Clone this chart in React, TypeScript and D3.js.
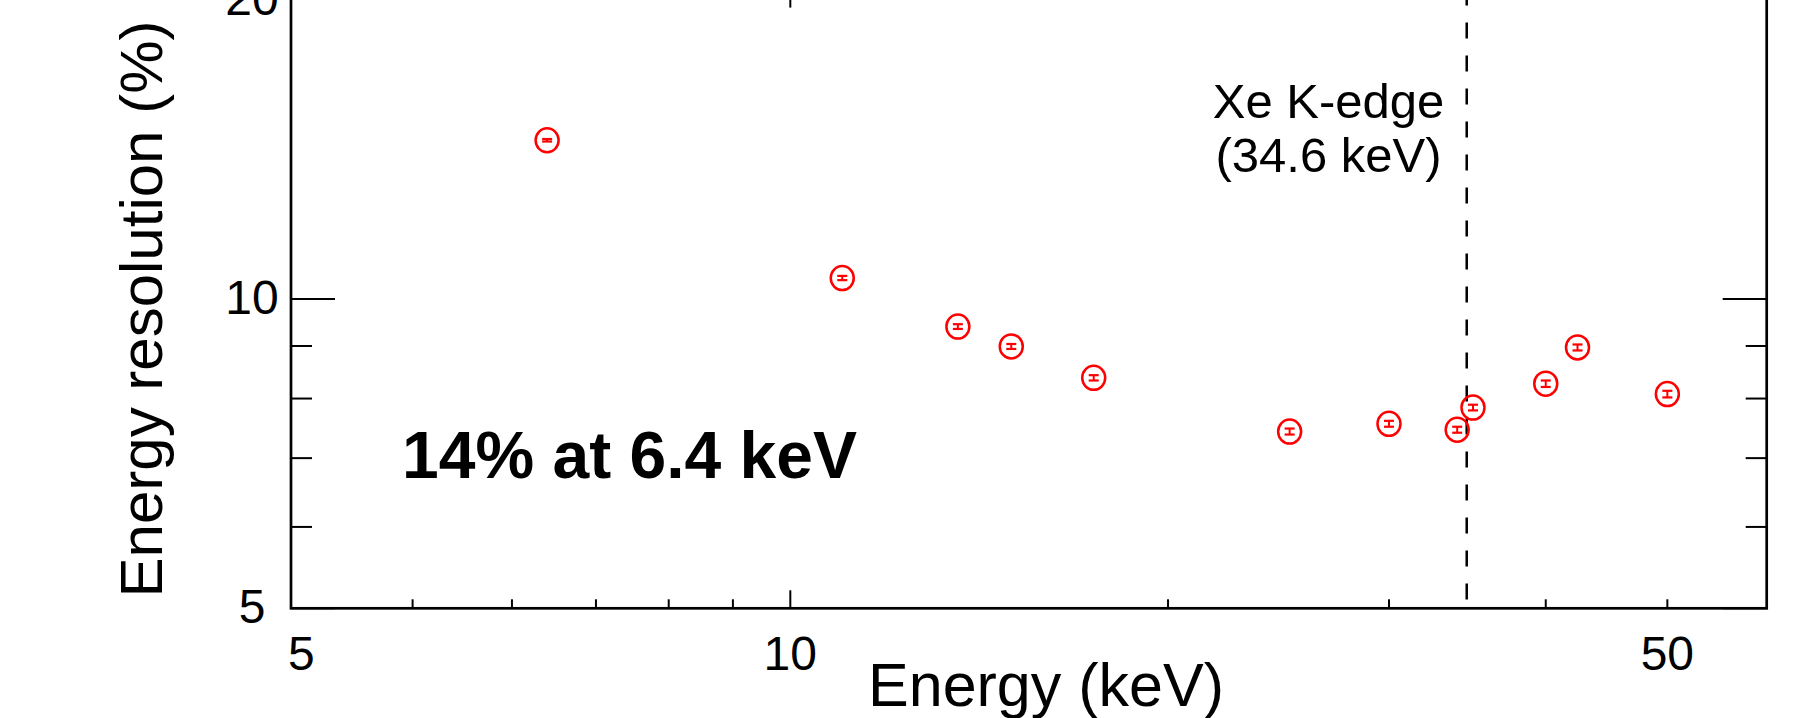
import { useRef, useEffect } from 'react';
import * as d3 from 'd3';

// measured points (energy in keV, resolution in % FWHM)
const energy = [6.4, 11.0, 13.6, 15.0, 17.45, 25.0, 30.0, 34.0, 35.0, 40.0, 42.4, 50.0];
const resolution = [14.27, 10.48, 9.40, 8.99, 8.38, 7.43, 7.56, 7.46, 7.84, 8.27, 8.97, 8.08];
const resErr = [0.04, 0.05, 0.05, 0.05, 0.05, 0.05, 0.05, 0.05, 0.05, 0.06, 0.06, 0.06];

const xMinorTicks = [5, 6, 7, 8, 9, 20, 30, 40, 50];
const xMajorTicks = [10];
const xTickLabels = ['5', '10', '50'];
const yMinorTicks = [6, 7, 8, 9];
const yMajorTicks = [5, 10, 20];

const kEdge = 34.6;

const W = 1813;
const H = 718;
const FONT = '"Liberation Sans", Arial, Helvetica, sans-serif';

const App = () => {
  const svgRef = useRef(null);

  useEffect(() => {
    const svg = d3.select(svgRef.current);
    svg.selectAll('*').remove();

    const x = d3.scaleLog().domain([4, 60]).range([291, 1766.7]);
    const y = d3.scaleLog().domain([5, 20]).range([608.3, -10.4]);
    const [x0, x1] = x.range();
    const [y0, y1] = y.range();

    //ticks on all four sides
    const g = svg.append('g').attr('stroke', '#000').attr('stroke-width', 2);
    const xt = (vals, len) => {
      vals.forEach((v) => {
        g.append('line').attr('x1', x(v)).attr('x2', x(v)).attr('y1', y0).attr('y2', y0 - len);
        g.append('line').attr('x1', x(v)).attr('x2', x(v)).attr('y1', y1).attr('y2', y1 + len);
      });
    };
    const yt = (vals, len) => {
      vals.forEach((v) => {
        g.append('line').attr('y1', y(v)).attr('y2', y(v)).attr('x1', x0).attr('x2', x0 + len);
        g.append('line').attr('y1', y(v)).attr('y2', y(v)).attr('x1', x1).attr('x2', x1 - len);
      });
    };
    xt(xMinorTicks, 9);
    xt(xMajorTicks, 18);
    yt(yMinorTicks, 21);
    yt(yMajorTicks, 44);

    // K-edge marker
    svg.append('line')
      .attr('x1', x(kEdge)).attr('x2', x(kEdge))
      .attr('y1', y1).attr('y2', y0)
      .attr('stroke', '#000')
      .attr('stroke-width', 2.5)
      .attr('stroke-dasharray', '16 17');

    //frame
    svg.append('rect')
      .attr('x', x0).attr('y', y1)
      .attr('width', x1 - x0).attr('height', y0 - y1)
      .attr('fill', 'none')
      .attr('stroke', '#000')
      .attr('stroke-width', 2.7);

    // tick labels
    const labX = [4, 10, 50];
    xTickLabels.forEach((t, i) => {
      const first = i === 0;
      svg.append('text')
        .attr('x', first ? x(labX[i]) - 3 : x(labX[i]))
        .attr('y', 670)
        .attr('text-anchor', first ? 'start' : 'middle')
        .style('font-family', FONT)
        .style('font-size', '48px')
        .text(t);
    });
    yMajorTicks.forEach((v) => {
      svg.append('text')
        .attr('x', 252)
        .attr('y', Math.max(y(v) + 15, 15))
        .attr('text-anchor', 'middle')
        .style('font-family', FONT)
        .style('font-size', '48px')
        .text(String(v));
    });

    // axis titles
    svg.append('text')
      .attr('x', 1046)
      .attr('y', 706)
      .attr('text-anchor', 'middle')
      .style('font-family', FONT)
      .style('font-size', '61px')
      .text('Energy (keV)');

    svg.append('text')
      .attr('transform', 'translate(162,309) rotate(-90)')
      .attr('text-anchor', 'middle')
      .style('font-family', FONT)
      .style('font-size', '60px')
      .style('white-space', 'pre')
      .text('Energy resolution (%)');

    // annotations
    const note = svg.append('text')
      .attr('text-anchor', 'middle')
      .style('font-family', FONT)
      .style('font-size', '49px');
    note.append('tspan').attr('x', 1328.5).attr('y', 118).text('Xe K-edge');
    note.append('tspan').attr('x', 1328.5).attr('y', 172).text('(34.6 keV)');

    svg.append('text')
      .attr('x', 402)
      .attr('y', 478)
      .style('font-family', FONT)
      .style('font-size', '66px')
      .style('font-weight', 'bold')
      .text('14% at 6.4 keV');

    // data points with error bars
    const pts = energy.map((e, i) => ({ e, r: resolution[i], err: resErr[i] }));
    const pg = svg.append('g').attr('stroke', 'red').attr('fill', 'none');
    pts.forEach((d) => {
      const cx = x(d.e);
      pg.append('ellipse').attr('cx', cx).attr('cy', y(d.r)).attr('rx', 11.5).attr('ry', 12).attr('stroke-width', 2.5);
      const top = y(d.r + d.err);
      const bot = y(d.r - d.err);
      pg.append('line').attr('x1', cx).attr('x2', cx).attr('y1', top).attr('y2', bot).attr('stroke-width', 2);
      pg.append('line').attr('x1', cx - 5).attr('x2', cx + 5).attr('y1', top).attr('y2', top).attr('stroke-width', 2.2);
      pg.append('line').attr('x1', cx - 5).attr('x2', cx + 5).attr('y1', bot).attr('y2', bot).attr('stroke-width', 2.2);
    });
  }, []);

  return (
    <svg
      ref={svgRef}
      width={W}
      height={H}
      style={{ position: 'absolute', left: 0, top: 0, background: '#fff' }}
    ></svg>
  );
};

export default App;
